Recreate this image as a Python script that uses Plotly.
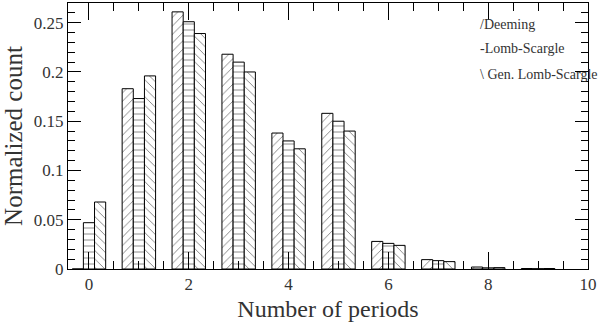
import plotly.graph_objects as go

# Histogram of number of periods found, per method
periods = [0, 1, 2, 3, 4, 5, 6, 7, 8, 9]
deeming = [0.0, 0.183, 0.261, 0.218, 0.138, 0.158, 0.028, 0.0095, 0.002, 0.0005]
lomb_scargle = [0.047, 0.173, 0.251, 0.210, 0.130, 0.150, 0.026, 0.0085, 0.0012, 0.0003]
gen_lomb_scargle = [0.068, 0.196, 0.239, 0.200, 0.122, 0.140, 0.024, 0.0075, 0.0014, 0.0005]

series = [
    ("Deeming", deeming, "/"),
    ("Lomb-Scargle", lomb_scargle, "-"),
    ("Gen. Lomb-Scargle", gen_lomb_scargle, "\\"),
]

serif = "Liberation Serif"
ink = "#333333"

fig = go.Figure()
for name, vals, hatch in series:
    fig.add_trace(go.Bar(
        x=periods, y=vals, name=name,
        marker=dict(
            color="white",
            line=dict(color="black", width=1),
            pattern=dict(shape=hatch, fgcolor="black", bgcolor="white",
                         size=6, solidity=0.15),
        ),
    ))

axis_common = dict(
    showgrid=False, zeroline=False, showline=True, linecolor="black",
    linewidth=1, mirror="allticks", ticks="inside", tickcolor="black",
    tickfont=dict(family=serif, size=17, color=ink),
)

fig.update_layout(
    width=600, height=336,
    margin=dict(l=68, r=12, t=3, b=67),
    plot_bgcolor="white", paper_bgcolor="white",
    barmode="group", bargap=0.33, bargroupgap=0,
    showlegend=False,
    xaxis=dict(
        range=[-0.42, 10], tickvals=[0, 2, 4, 6, 8, 10], ticklen=17,
        minor=dict(dtick=0.5, tick0=0, ticklen=8, ticks="inside", tickcolor="black"),
        title=dict(text="Number of periods", font=dict(family=serif, size=24, color=ink),
                   standoff=6),
        **axis_common,
    ),
    yaxis=dict(
        range=[0, 0.27], tickvals=[0, 0.05, 0.1, 0.15, 0.2, 0.25],
        ticktext=["0", "0.05", "0.1", "0.15", "0.2", "0.25"], ticklen=13,
        minor=dict(dtick=0.01, tick0=0, ticklen=7, ticks="inside", tickcolor="black"),
        title=dict(text="Normalized count", font=dict(family=serif, size=25, color=ink),
                   standoff=4),
        **axis_common,
    ),
)

# text legend with hatch glyphs (pixel positions converted to paper coords)
plot_w, plot_h = 600 - 68 - 12, 336 - 3 - 67
legend_lines = ["/Deeming", "-Lomb-Scargle", "\\ Gen. Lomb-Scargle"]
for i, txt in enumerate(legend_lines):
    fig.add_annotation(
        x=(478 - 68) / plot_w, y=1 - (24 + 25 * i - 3) / plot_h,
        xref="paper", yref="paper", text=txt,
        showarrow=False, xanchor="left", yanchor="middle",
        font=dict(family=serif, size=14, color=ink),
    )

# drop the default page margin so the figure sits at the window corner
fig.write_html("out.html", config={"displayModeBar": False},
               post_script="document.body.style.margin='0px';")
